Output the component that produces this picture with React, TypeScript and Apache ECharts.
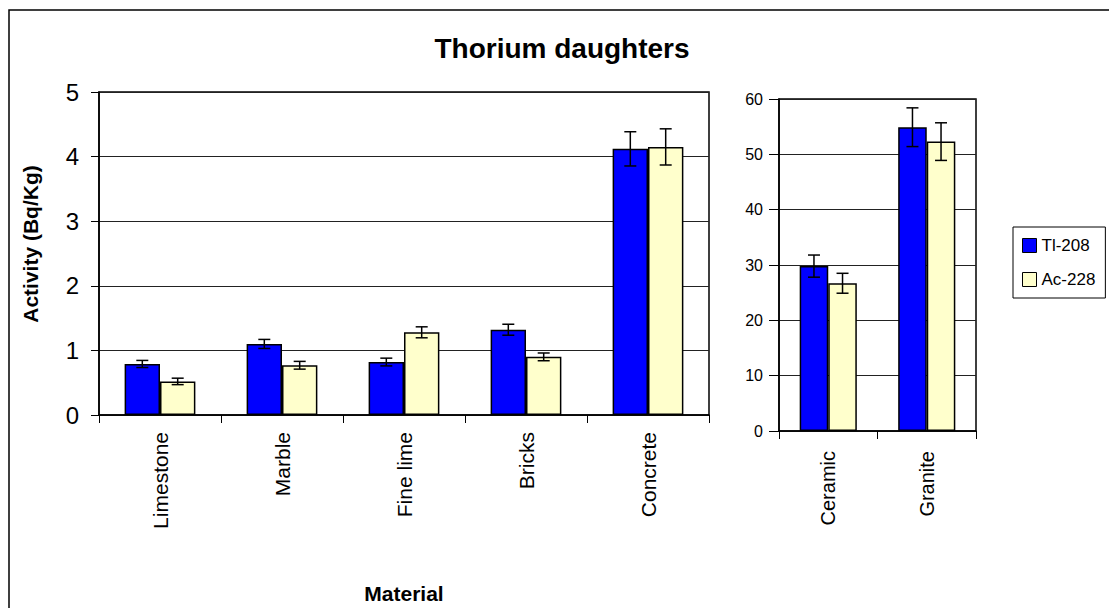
import React, { useEffect, useRef } from "react";
import * as echarts from "echarts";

const categoriesLeft = ["Limestone", "Marble", "Fine lime", "Bricks", "Concrete"];
const tlLeft = [0.79, 1.1, 0.82, 1.32, 4.12];
const tlLeftErr = [0.055, 0.07, 0.06, 0.085, 0.265];
const acLeft = [0.52, 0.77, 1.28, 0.9, 4.15];
const acLeftErr = [0.05, 0.06, 0.085, 0.06, 0.28];

const categoriesRight = ["Ceramic", "Granite"];
const tlRight = [29.8, 54.9];
const tlRightErr = [2.0, 3.5];
const acRight = [26.7, 52.3];
const acRightErr = [1.8, 3.4];

const seriesNames = ["Tl-208", "Ac-228"];
const titleText = "Thorium daughters";
const yTitle = "Activity (Bq/Kg)";
const xTitle = "Material";

const FONT = "'Liberation Sans', Arial, sans-serif";
const BLUE = "#0000FF";
const CREAM = "#FFFFCC";
const GAP = 0.42;

function errData(vals: number[], errs: number[], side: number) {
  return vals.map((v, i) => [i, v, errs[i], side]);
}

function errSeries(name: string, xi: number, data: number[][], cap: number) {
  return {
    type: "custom",
    name,
    xAxisIndex: xi,
    yAxisIndex: xi,
    z: 10,
    encode: { x: 0, y: 1 },
    data,
    renderItem: (params: any, api: any) => {
      const cat = api.value(0);
      const val = api.value(1);
      const err = api.value(2);
      const side = api.value(3);
      const catW = api.size([1, 0])[0];
      const barW = (catW * (1 - GAP)) / 2;
      const cx = api.coord([cat, val])[0] + (side * barW) / 2;
      const top = api.coord([cat, val + err])[1];
      const bot = api.coord([cat, val - err])[1];
      const st = { stroke: "#000", lineWidth: 1.5 };
      return {
        type: "group",
        children: [
          { type: "line", shape: { x1: cx, y1: top, x2: cx, y2: bot }, style: st },
          { type: "line", shape: { x1: cx - cap, y1: top, x2: cx + cap, y2: top }, style: st },
          { type: "line", shape: { x1: cx - cap, y1: bot, x2: cx + cap, y2: bot }, style: st },
        ],
      };
    },
  };
}

export default function App() {
  const ref = useRef<HTMLDivElement>(null);
  useEffect(() => {
    if (!ref.current) return;
    const chart = echarts.init(ref.current, undefined, { renderer: "svg" });
    const axisLine = { show: true, lineStyle: { color: "#000", width: 1.5 } };
    const barStyle = (c: string) => ({ color: c, borderColor: "#000", borderWidth: 1.5 });
    const option: any = {
      animation: false,
      backgroundColor: "#fff",
      textStyle: { fontFamily: FONT },
      grid: [
        { left: 99, top: 92, width: 610, height: 323, show: true, borderColor: "#000", borderWidth: 1.5, backgroundColor: "transparent" },
        { left: 779, top: 99, width: 197, height: 332, show: true, borderColor: "#000", borderWidth: 1.5, backgroundColor: "transparent" },
      ],
      xAxis: [
        {
          type: "category",
          gridIndex: 0,
          data: categoriesLeft,
          axisLine,
          axisTick: { show: true, length: 8, lineStyle: { color: "#000" } },
          axisLabel: { rotate: 90, margin: 17, fontSize: 21, color: "#000", fontFamily: FONT },
        },
        {
          type: "category",
          gridIndex: 1,
          data: categoriesRight,
          axisLine,
          axisTick: { show: true, length: 8, lineStyle: { color: "#000" } },
          axisLabel: { rotate: 90, margin: 20, fontSize: 20, color: "#000", fontFamily: FONT },
        },
      ],
      yAxis: [
        {
          type: "value",
          gridIndex: 0,
          min: 0,
          max: 5,
          interval: 1,
          axisLine,
          axisTick: { show: true, length: 8, lineStyle: { color: "#000" } },
          axisLabel: { margin: 20, fontSize: 24, color: "#000", fontFamily: FONT },
          splitLine: { show: true, lineStyle: { color: "#222", width: 1 } },
        },
        {
          type: "value",
          gridIndex: 1,
          min: 0,
          max: 60,
          interval: 10,
          axisLine,
          axisTick: { show: true, length: 10, lineStyle: { color: "#000" } },
          axisLabel: { margin: 16, fontSize: 16, color: "#000", fontFamily: FONT },
          splitLine: { show: true, lineStyle: { color: "#222", width: 1 } },
        },
      ],
      legend: {
        data: seriesNames,
        orient: "vertical",
        left: 1013,
        top: 227,
        borderColor: "#000",
        borderWidth: 1,
        padding: [10, 10, 10, 9],
        itemGap: 17,
        itemWidth: 14,
        itemHeight: 14,
        icon: "rect",
        itemStyle: { borderColor: "#000", borderWidth: 1 },
        textStyle: { fontSize: 17, color: "#000", fontFamily: FONT },
      },
      graphic: [
        {
          type: "rect",
          shape: { x: 9, y: 10, width: 1300, height: 800 },
          style: { fill: "none", stroke: "#000", lineWidth: 1.5 },
          silent: true,
        },
        {
          type: "text",
          x: 562,
          y: 48,
          style: { text: titleText, fontSize: 28, fontWeight: "bold", fill: "#000", textAlign: "center", textVerticalAlign: "middle", fontFamily: FONT },
        },
        {
          type: "text",
          x: 30,
          y: 244,
          rotation: Math.PI / 2,
          style: { text: yTitle, fontSize: 21, fontWeight: "bold", fill: "#000", textAlign: "center", textVerticalAlign: "middle", fontFamily: FONT },
        },
        {
          type: "text",
          x: 404,
          y: 593,
          style: { text: xTitle, fontSize: 21, fontWeight: "bold", fill: "#000", textAlign: "center", textVerticalAlign: "middle", fontFamily: FONT },
        },
      ],
      series: [
        { type: "bar", name: seriesNames[0], xAxisIndex: 0, yAxisIndex: 0, data: tlLeft, barGap: "0%", barCategoryGap: "42%", itemStyle: barStyle(BLUE) },
        { type: "bar", name: seriesNames[1], xAxisIndex: 0, yAxisIndex: 0, data: acLeft, barGap: "0%", barCategoryGap: "42%", itemStyle: barStyle(CREAM) },
        { type: "bar", name: seriesNames[0], xAxisIndex: 1, yAxisIndex: 1, data: tlRight, barGap: "0%", barCategoryGap: "42%", itemStyle: barStyle(BLUE) },
        { type: "bar", name: seriesNames[1], xAxisIndex: 1, yAxisIndex: 1, data: acRight, barGap: "0%", barCategoryGap: "42%", itemStyle: barStyle(CREAM) },
        errSeries("errTlL", 0, errData(tlLeft, tlLeftErr, -1), 6),
        errSeries("errAcL", 0, errData(acLeft, acLeftErr, 1), 6),
        errSeries("errTlR", 1, errData(tlRight, tlRightErr, -1), 6),
        errSeries("errAcR", 1, errData(acRight, acRightErr, 1), 6),
      ],
    };
    chart.setOption(option);
    return () => chart.dispose();
  }, []);
  return <div ref={ref} style={{ position: "absolute", left: 0, top: 0, width: 1109, height: 608 }} />;
}
